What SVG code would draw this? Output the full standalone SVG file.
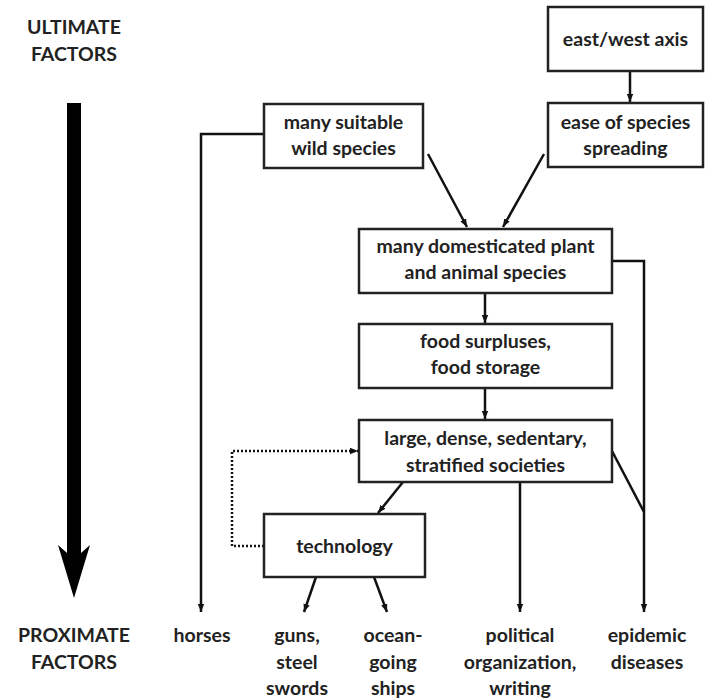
<svg xmlns="http://www.w3.org/2000/svg" width="705" height="700" viewBox="0 0 705 700">
<defs>
<style>
.box{fill:#fff;stroke:#222;stroke-width:2.5}
.t{font-family:Lato,"Liberation Sans",sans-serif;font-weight:700;font-size:19.5px;fill:#222;text-anchor:middle}
.c{fill:none;stroke:#111;stroke-width:2.5}
.d{fill:none;stroke:#111;stroke-width:2.5;stroke-dasharray:2 2}
</style>
<marker id="ah" viewBox="0 0 10 10" refX="10" refY="5" markerWidth="8" markerHeight="8" markerUnits="userSpaceOnUse" orient="auto">
<path d="M0,1 L10,5 L0,9 z" fill="#111"/>
</marker>
</defs>
<rect width="705" height="700" fill="#fff"/>
<g id="labels">
<text class="t" x="74" y="34">ULTIMATE</text>
<text class="t" x="74" y="61">FACTORS</text>
<text class="t" x="74" y="642">PROXIMATE</text>
<text class="t" x="74" y="669">FACTORS</text>
<polygon points="67,103 81,103 81,553 90,545 74,598 58,545 67,553" fill="#000"/>
</g>
<g id="connectors">
<line class="c" x1="630" y1="71" x2="630" y2="102" marker-end="url(#ah)"/>
<polyline class="c" points="264,134 201,134 201,612" marker-end="url(#ah)"/>
<line class="c" x1="428" y1="154" x2="467" y2="227" marker-end="url(#ah)"/>
<line class="c" x1="544" y1="154" x2="503" y2="227" marker-end="url(#ah)"/>
<line class="c" x1="485" y1="293" x2="485" y2="323" marker-end="url(#ah)"/>
<line class="c" x1="485" y1="388" x2="485" y2="419" marker-end="url(#ah)"/>
<polyline class="c" points="612,261 644,261 644,612" marker-end="url(#ah)"/>
<line class="c" x1="612" y1="451" x2="644" y2="512"/>
<line class="c" x1="403" y1="482" x2="378" y2="513" marker-end="url(#ah)"/>
<line class="c" x1="520" y1="482" x2="520" y2="612" marker-end="url(#ah)"/>
<line class="c" x1="316" y1="577" x2="304" y2="612" marker-end="url(#ah)"/>
<line class="c" x1="374" y1="577" x2="387" y2="612" marker-end="url(#ah)"/>
<polyline class="d" points="264,546 232,546 232,451 358,451" marker-end="url(#ah)"/>
</g>
<g id="n-eastwest">
<rect class="box" x="548" y="7" width="155" height="64"/>
<text class="t" x="625.5" y="46">east/west axis</text>
</g>
<g id="n-ease">
<rect class="box" x="548" y="103" width="155" height="64"/>
<text class="t" x="625.5" y="129">ease of species</text>
<text class="t" x="625.5" y="155">spreading</text>
</g>
<g id="n-wild">
<rect class="box" x="264" y="104" width="159" height="64"/>
<text class="t" x="343.5" y="129">many suitable</text>
<text class="t" x="343.5" y="155">wild species</text>
</g>
<g id="n-domesticated">
<rect class="box" x="359" y="229" width="253" height="64"/>
<text class="t" x="485.5" y="253">many domesticated plant</text>
<text class="t" x="485.5" y="279">and animal species</text>
</g>
<g id="n-food">
<rect class="box" x="359" y="324" width="253" height="64"/>
<text class="t" x="485.5" y="348">food surpluses,</text>
<text class="t" x="485.5" y="374">food storage</text>
</g>
<g id="n-societies">
<rect class="box" x="359" y="420" width="253" height="62"/>
<text class="t" x="485.5" y="445">large, dense, sedentary,</text>
<text class="t" x="485.5" y="472">stratified societies</text>
</g>
<g id="n-technology">
<rect class="box" x="264" y="514" width="161" height="63"/>
<text class="t" x="344.5" y="553">technology</text>
</g>
<g id="n-horses"><text class="t" x="202" y="642">horses</text></g>
<g id="n-guns">
<text class="t" x="297" y="642">guns,</text>
<text class="t" x="297" y="669">steel</text>
<text class="t" x="297" y="695">swords</text>
</g>
<g id="n-ships">
<text class="t" x="393" y="642">ocean-</text>
<text class="t" x="393" y="669">going</text>
<text class="t" x="393" y="695">ships</text>
</g>
<g id="n-political">
<text class="t" x="520" y="642">political</text>
<text class="t" x="520" y="669">organization,</text>
<text class="t" x="520" y="695">writing</text>
</g>
<g id="n-epidemic">
<text class="t" x="647" y="642">epidemic</text>
<text class="t" x="647" y="669">diseases</text>
</g>
</svg>
